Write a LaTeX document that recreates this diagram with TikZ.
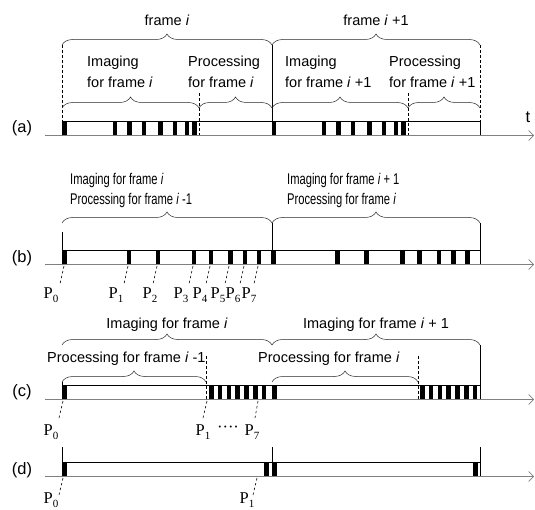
\documentclass[tikz,border=0pt]{standalone}
\usepackage{fontspec}
\setmainfont{Liberation Sans}
\newfontfamily\pfont{Liberation Serif}
\newfontfamily\narrowfont[FakeStretch=0.72]{Liberation Sans}
\usetikzlibrary{decorations.pathreplacing,arrows.meta}
\newcommand{\Plab}[1]{{\pfont P\raisebox{-4pt}{\fontsize{11}{11}\selectfont #1}}}
\begin{document}
\begin{tikzpicture}[x=1pt,y=-1pt,
  axisline/.style={draw=gray, line width=1.3pt, -{Straight Barb[length=5pt,width=10pt,line width=0.7pt]}},
  boxline/.style={draw=black, line width=0.6pt},
  bar/.style={fill=black},
  dashline/.style={draw=black, line width=0.6pt, dash pattern=on 3pt off 2pt},
  solidline/.style={draw=black, line width=0.6pt},
  ticks/.style={draw=black, line width=0.6pt, dash pattern=on 2.5pt off 2.5pt},
  curly/.style={draw=black!85, line width=0.5pt, decorate, decoration={brace, amplitude=11pt}},
  txt/.style={inner sep=0pt, font=\fontsize{14.5}{21}\selectfont},
  ntxt/.style={inner sep=0pt, font=\narrowfont\fontsize{15.5}{20}\selectfont},
  lab/.style={inner sep=0pt, font=\fontsize{16.5}{18}\selectfont},
  plab/.style={inner sep=0pt, font=\fontsize{16.5}{18}\selectfont}
]
\useasboundingbox (0,0) rectangle (535,510);

% ================= (a) =================
\node[lab] (la) at (22,128) {(a)};
\node[lab] (t) at (528,117) {t};
\draw[boxline, fill=white] (62,135) -- (62,121) -- (480,121) -- (480,135);
\foreach \o in {62.5,271.5}{
  \foreach \r in {0,50,64.5,79,95.5,110,122,129.5}
    \fill[bar] (\o+\r,121) rectangle ++(4.5,14.5);
}
\coordinate (a0) at (45,135.5);
\coordinate (a1) at (534,135.5);
\draw[axisline] (a0) -- (a1);
\draw[dashline] (62,45) -- (62,135);
\draw[dashline] (199,93) -- (199,135);
\draw[dashline] (408,93) -- (408,135);
\draw[dashline] (480,45) -- (480,121);
\draw[solidline] (272,45) -- (272,121);
\draw[curly] (62,45) -- (272,45);
\draw[curly] (272,45) -- (480,45);
\draw[curly] (62,108) -- (199,108);
\draw[curly] (199,108) -- (272,108);
\draw[curly] (272,108) -- (408,108);
\draw[curly] (408,108) -- (480,108);
\node[txt] (fa) at (167,20) {frame \textit{i}};
\node[txt] (fb) at (376,20) {frame \textit{i} +1};
\node[txt, anchor=west, align=left] (ia) at (87,72) {Imaging\\for frame \textit{i}};
\node[txt, anchor=west, align=left] (pa) at (188,72) {Processing\\for frame \textit{i}};
\node[txt, anchor=west, align=left] (ib) at (285,72) {Imaging\\for frame \textit{i} +1};
\node[txt, anchor=west, align=left] (pb) at (389,72) {Processing\\for frame \textit{i} +1};

% ================= (b) =================
\node[lab] (lb) at (22,258) {(b)};
\draw[boxline, fill=white] (62,264) -- (62,250) -- (480,250) -- (480,264);
\foreach \o in {62.5,271}{
  \foreach \r in {0,64,93,129,146,165.5,180,194}
    \fill[bar] (\o+\r,250) rectangle ++(4.5,14.5);
}
\coordinate (b0) at (45,264.5);
\coordinate (b1) at (534,264.5);
\draw[axisline] (b0) -- (b1);
\draw[solidline] (62,232) -- (62,250);
\draw[solidline] (272,223) -- (272,250);
\draw[solidline] (480,223) -- (480,250);
\draw[curly] (62,223) -- (272,223);
\draw[curly] (272,223) -- (480,223);
\node[ntxt, anchor=west, align=left] (tb1) at (70,190) {Imaging for frame \textit{i}\\Processing for frame \textit{i} -1};
\node[ntxt, anchor=west, align=left] (tb2) at (287,190) {Imaging for frame \textit{i} + 1\\Processing for frame \textit{i}};
\foreach \n/\bx/\lx in {0/63/51,1/127/116,2/156/150,3/192/181,4/209/200,5/228/218,6/243/233,7/257/249}{
  \node[plab] (pb\n) at (\lx,295) {\Plab{\n}};
  \draw[ticks] (\bx+1,266) -- (\bx-3,284);
}

% ================= (c) =================
\node[lab] (lc) at (22,392) {(c)};
\draw[boxline, fill=white] (62,399) -- (62,385) -- (480,385) -- (480,399);
\foreach \x in {62.5,272}
  \fill[bar] (\x,385) rectangle ++(4.5,14.5);
\foreach \k in {0,...,6}{
  \fill[bar] (209+8.8*\k,385) rectangle ++(4.5,14.5);
  \fill[bar] (420+8.8*\k,385) rectangle ++(4.5,14.5);
}
\coordinate (c0) at (45,399.5);
\coordinate (c1) at (534,399.5);
\draw[axisline] (c0) -- (c1);
\draw[dashline] (206,356) -- (206,399);
\draw[dashline] (418,356) -- (418,399);
\draw[solidline] (480,345) -- (480,385);
\draw[solidline] (62,382) -- (62,385);
\draw[curly] (62,345) -- (272,345);
\draw[curly] (272,345) -- (480,345);
\draw[curly] (62,382) -- (206,382);
\draw[curly] (272,382) -- (418,382);
\node[txt] (tc1) at (167,325) {Imaging for frame \textit{i}};
\node[txt] (tc2) at (376,325) {Imaging for frame \textit{i} + 1};
\node[txt, anchor=west] (tc3) at (47,359) {Processing for frame \textit{i} -1};
\node[txt, anchor=west] (tc4) at (258,359) {Processing for frame \textit{i}};
\node[plab] (pc0) at (51,432) {\Plab{0}};
\node[plab] (pc1) at (203,432) {\Plab{1}};
\node[plab] (pcd) at (228,429) {{\pfont ····}};
\node[plab] (pc7) at (252,432) {\Plab{7}};
\draw[ticks] (63,401) -- (59,418);
\draw[ticks] (207,401) -- (203,418);
\draw[ticks] (258,401) -- (255,418);

% ================= (d) =================
\node[lab] (ld) at (22,470) {(d)};
\draw[boxline, fill=white] (62,476) -- (62,462) -- (480,462) -- (480,476);
\foreach \x in {62.5,264,272,473}
  \fill[bar] (\x,462) rectangle ++(4.5,14.5);
\coordinate (d0) at (45,476.5);
\coordinate (d1) at (534,476.5);
\draw[axisline] (d0) -- (d1);
\draw[solidline] (62,447) -- (62,462);
\draw[solidline] (272,447) -- (272,462);
\draw[solidline] (480,447) -- (480,462);
\node[plab] (pd0) at (51,500) {\Plab{0}};
\node[plab] (pd1) at (247,500) {\Plab{1}};
\draw[ticks] (63,478) -- (59,495);
\draw[ticks] (257,478) -- (253,495);
\end{tikzpicture}
\end{document}
